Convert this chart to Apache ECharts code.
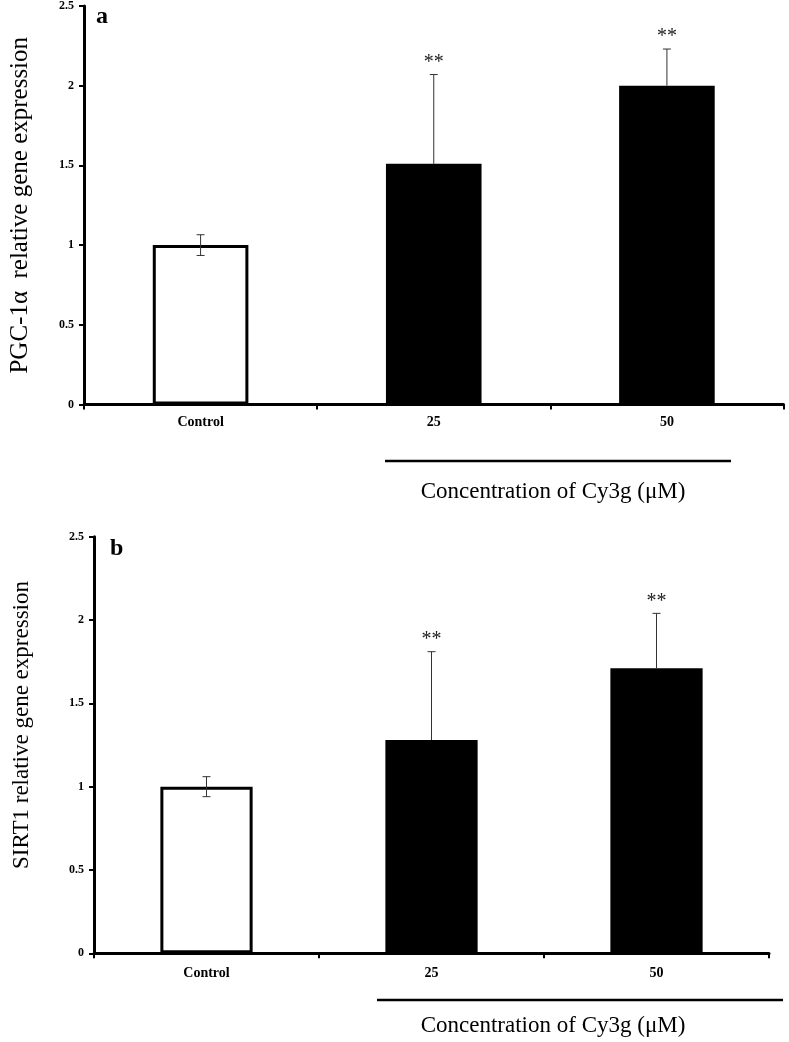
<!DOCTYPE html>
<html><head><meta charset="utf-8">
<script src="https://cdn.jsdelivr.net/npm/echarts@6/dist/echarts.min.js"></script>
<style>html,body{margin:0;padding:0;background:#fff}#c{width:789px;height:1042px}</style>
</head><body><div id="c"></div>
<script>
const categories = ['Control', '25', '50'];
const barFills = ['#ffffff', '#000000', '#000000'];
const pgcValues = [1.00, 1.51, 2.00];
const pgcErrors = [0.065, 0.56, 0.23];
const pgcSig = ['', '**', '**'];
const sirtValues = [1.00, 1.28, 1.71];
const sirtErrors = [0.06, 0.53, 0.33];
const sirtSig = ['', '**', '**'];
const yMin = 0, yMax = 2.5, yStep = 0.5;
const pgcLabel = 'PGC-1\u03b1  relative gene expression';
const sirtLabel = 'SIRT1 relative gene expression';
const xTitle = 'Concentration of Cy3g (\u03bcM)';

const SERIF = '"Liberation Serif", "Times New Roman", serif';
const chart = echarts.init(document.getElementById('c'), null, {renderer: 'canvas'});

function barData(vals) {
  return vals.map((v, i) => ({
    value: v,
    itemStyle: barFills[i] === '#ffffff'
      ? {color: '#ffffff', borderColor: '#000', borderWidth: 3}
      : {color: '#000000', borderColor: '#000', borderWidth: 0}
  }));
}
function errData(vals, errs) {
  return vals.map((v, i) => [i, v, errs[i], barFills[i] === '#ffffff' ? 1 : 0]);
}
function errRender(params, api) {
  const x = api.value(0), v = api.value(1), e = api.value(2);
  const hi = api.coord([x, v + e]);
  const mid = api.coord([x, v]);
  const lo = api.coord([x, v - e]);
  const both = api.value(3) === 1;
  const st = {stroke: '#333', lineWidth: 1};
  const cap = 4;
  const end = both ? lo : mid;
  const ch = [
    {type: 'line', shape: {x1: hi[0], y1: hi[1], x2: end[0], y2: end[1]}, style: st},
    {type: 'line', shape: {x1: hi[0] - cap, y1: hi[1], x2: hi[0] + cap, y2: hi[1]}, style: st}
  ];
  if (both) ch.push({type: 'line', shape: {x1: lo[0] - cap, y1: lo[1], x2: lo[0] + cap, y2: lo[1]}, style: st});
  return {type: 'group', children: ch};
}
function sigRender(sigArr) {
  return function (params, api) {
    const x = api.value(0), v = api.value(1), e = api.value(2);
    const hi = api.coord([x, v + e]);
    const txt = sigArr[params.dataIndex];
    if (!txt) return null;
    return {type: 'text', x: hi[0], y: hi[1] - 2, style: {text: txt, font: '20px ' + SERIF, fill: '#222', textAlign: 'center', textVerticalAlign: 'bottom'}};
  };
}

function xAx(gi, margin) {
  return {
    type: 'category', gridIndex: gi, data: categories,
    axisLine: {show: true, lineStyle: {color: '#000', width: 3}},
    axisTick: {show: true, length: 5, lineStyle: {color: '#000', width: 2}},
    axisLabel: {color: '#000', fontFamily: SERIF, fontWeight: 'bold', fontSize: 14, margin: margin},
    splitLine: {show: false}
  };
}
function yAx(gi, name, gap, size, pad) {
  return {
    type: 'value', gridIndex: gi, min: yMin, max: yMax, interval: yStep,
    name: name, nameLocation: 'middle', nameGap: gap, nameRotate: 90,
    nameTextStyle: {color: '#000', fontFamily: SERIF, fontSize: size, padding: pad},
    axisLine: {show: true, lineStyle: {color: '#000', width: 3}},
    axisTick: {show: true, length: 5, lineStyle: {color: '#000', width: 2}},
    axisLabel: {color: '#000', fontFamily: SERIF, fontWeight: 'bold', fontSize: 12, margin: 10},
    splitLine: {show: false}
  };
}

const option = {
  backgroundColor: '#fff',
  animation: false,
  grid: [
    {left: 83, top: 5.5, width: 700.5, height: 399},
    {left: 94, top: 536.7, width: 675, height: 416.6}
  ],
  xAxis: [xAx(0, 11), xAx(1, 13)],
  yAxis: [yAx(0, pgcLabel, 51, 25, [0, 0, 0, 0]), yAx(1, sirtLabel, 61, 23, [0, 0, 0, 40])],
  series: [
    {type: 'bar', xAxisIndex: 0, yAxisIndex: 0, data: barData(pgcValues), barWidth: '41%', z: 2},
    {type: 'custom', xAxisIndex: 0, yAxisIndex: 0, data: errData(pgcValues, pgcErrors), renderItem: errRender, z: 3},
    {type: 'custom', xAxisIndex: 0, yAxisIndex: 0, data: errData(pgcValues, pgcErrors), renderItem: sigRender(pgcSig), z: 3},
    {type: 'bar', xAxisIndex: 1, yAxisIndex: 1, data: barData(sirtValues), barWidth: '41%', z: 2},
    {type: 'custom', xAxisIndex: 1, yAxisIndex: 1, data: errData(sirtValues, sirtErrors), renderItem: errRender, z: 3},
    {type: 'custom', xAxisIndex: 1, yAxisIndex: 1, data: errData(sirtValues, sirtErrors), renderItem: sigRender(sirtSig), z: 3}
  ],
  graphic: [
    {type: 'text', left: 96, top: 5, style: {text: 'a', font: 'bold 24px ' + SERIF, fill: '#000'}},
    {type: 'text', left: 110, top: 537, style: {text: 'b', font: 'bold 24px ' + SERIF, fill: '#000'}},
    {type: 'line', shape: {x1: 385, y1: 461, x2: 731, y2: 461}, style: {stroke: '#000', lineWidth: 2.5}},
    {type: 'text', x: 553, y: 492, style: {text: xTitle, font: '23px ' + SERIF, fill: '#000', textAlign: 'center', textVerticalAlign: 'middle'}},
    {type: 'line', shape: {x1: 377, y1: 1000, x2: 783, y2: 1000}, style: {stroke: '#000', lineWidth: 2.5}},
    {type: 'text', x: 553, y: 1026, style: {text: xTitle, font: '23px ' + SERIF, fill: '#000', textAlign: 'center', textVerticalAlign: 'middle'}}
  ]
};
chart.setOption(option);
</script>
</body></html>
